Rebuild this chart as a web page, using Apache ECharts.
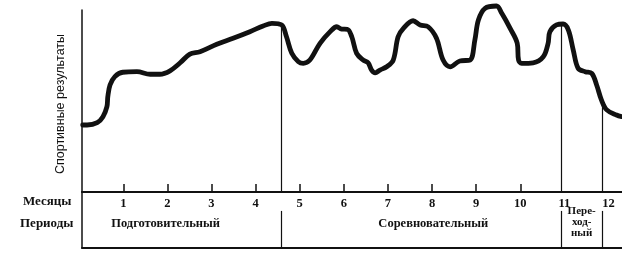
<!DOCTYPE html>
<html>
<head>
<meta charset="utf-8">
<script src="https://cdn.jsdelivr.net/npm/echarts@6/dist/echarts.min.js"></script>
<style>
html,body{margin:0;padding:0;background:#fff;}
#c{width:622px;height:263px;}
</style>
</head>
<body>
<div id="c"></div>
<script>
// ---- data ----
const months = [1, 2, 3, 4, 5, 6, 7, 8, 9, 10, 11, 12];
const monthLabels = ['1', '2', '3', '4', '5', '6', '7', '8', '9', '10', '11', '12'];
// sports results curve: x in months, y in relative units (0..100)
const curveX = [0.08, 0.18, 0.41, 0.54, 0.63, 0.65, 0.70, 0.81, 0.99, 1.31, 1.61, 1.83, 2.06, 2.29, 2.51, 2.74, 3.12, 3.49, 3.87, 4.17, 4.37, 4.59, 4.70, 4.82, 4.97, 5.08, 5.23, 5.46, 5.69, 5.84, 5.95, 6.08, 6.18, 6.29, 6.44, 6.55, 6.63, 6.71, 6.82, 6.97, 7.12, 7.23, 7.35, 7.57, 7.73, 7.91, 8.10, 8.25, 8.41, 8.63, 8.86, 8.97, 9.05, 9.20, 9.46, 9.58, 9.77, 9.93, 9.96, 10.03, 10.29, 10.52, 10.63, 10.67, 10.82, 10.97, 11.09, 11.20, 11.31, 11.47, 11.62, 11.73, 11.84, 11.96, 12.18, 12.30];
const curveY = [36.8, 36.8, 38.1, 41.4, 46.9, 52.4, 58.8, 63.4, 65.8, 66.1, 64.7, 64.7, 66.6, 71.0, 75.8, 77.1, 81.2, 84.5, 88.1, 91.2, 92.7, 91.8, 85.3, 76.2, 71.6, 70.7, 72.5, 81.7, 88.1, 90.8, 89.5, 89.4, 85.3, 76.2, 72.5, 71.0, 67.0, 65.5, 67.0, 68.8, 72.5, 85.3, 89.9, 94.1, 91.8, 90.8, 84.5, 72.5, 68.8, 72.0, 72.5, 83.5, 94.5, 100.9, 102.2, 98.2, 89.9, 81.7, 72.5, 70.7, 71.0, 74.3, 81.7, 88.1, 91.8, 92.3, 89.0, 78.0, 68.0, 66.1, 65.2, 58.8, 50.5, 45.1, 42.3, 41.4];
const periodNames = ['Подготовительный', 'Соревновательный', 'Пере-\nход-\nный'];
const periodBounds = [4.58, 10.93, 11.85];   // month positions of period boundaries
const rowTitles = ['Месяцы', 'Периоды'];
const yTitle = 'Спортивные результаты';

// ---- layout / style ----
const X_MIN = 0.065, X_MAX = 12.305;
const TABLE_MIN = -30.77;         // table band below the month axis (same units as chart)
const TABLE_ROW_TOP = -10.4;      // where period row separators start
const PERIOD_LABEL_Y = -17.6;
const periodLabelOffsets = [[-16, 0], [12, 0], [0, -2]];
const ink = '#111';
const serif = '"Liberation Serif", "DejaVu Serif", serif';
const sans = '"Liberation Sans", Arial, sans-serif';

function curveAt(x) {
  for (let i = 0; i < curveX.length - 1; i++) {
    if (curveX[i] <= x && x <= curveX[i + 1]) {
      const t = (x - curveX[i]) / ((curveX[i + 1] - curveX[i]) || 1);
      return curveY[i] + t * (curveY[i + 1] - curveY[i]);
    }
  }
  return curveY[curveY.length - 1];
}

const curveData = curveX.map((x, i) => [x, curveY[i]]);
// month ticks are replaced by the period boundary lines where they nearly coincide
const tickMonths = months.filter(m => periodBounds.every(b => Math.abs(b - m) > 0.2));

const upperLines = periodBounds.map(b => [{ coord: [b, curveAt(b)] }, { coord: [b, 0] }]);
const lowerLines = periodBounds.map(b => [{ coord: [b, TABLE_ROW_TOP] }, { coord: [b, TABLE_MIN] }]);

const starts = [X_MIN].concat(periodBounds.slice(0, 2));
const ends = periodBounds.slice(0, 3);
const periodLabelData = periodNames.map((n, i) => ({
  name: n,
  value: [(starts[i] + ends[i]) / 2, PERIOD_LABEL_Y],
  label: { offset: periodLabelOffsets[i], fontSize: i === 2 ? 11 : 12.5, lineHeight: 11 }
}));

const chart = echarts.init(document.getElementById('c'), null, { renderer: 'canvas' });
chart.setOption({
  animation: false,
  backgroundColor: '#fff',
  grid: [
    { left: 82, right: 0, top: 10, height: 182, containLabel: false, outerBoundsMode: 'none' },
    { left: 82, right: 0, top: 192, height: 56, containLabel: false, outerBoundsMode: 'none' }
  ],
  xAxis: [
    {
      gridIndex: 0, type: 'value', min: X_MIN, max: X_MAX, position: 'bottom',
      axisLine: { show: true, onZero: false, lineStyle: { color: ink, width: 2 } },
      axisTick: { show: true, inside: true, length: 8, customValues: tickMonths, lineStyle: { color: ink, width: 1.5 } },
      axisLabel: {
        show: true, customValues: months, margin: 5,
        formatter: v => monthLabels[months.indexOf(Math.round(v))] || '',
        color: ink, fontFamily: serif, fontWeight: 'bold', fontSize: 12.5
      },
      splitLine: { show: false }
    },
    {
      gridIndex: 1, type: 'value', min: X_MIN, max: X_MAX, position: 'bottom',
      axisLine: { show: true, onZero: false, lineStyle: { color: ink, width: 2 } },
      axisTick: { show: false }, axisLabel: { show: false }, splitLine: { show: false }
    }
  ],
  yAxis: [
    {
      gridIndex: 0, type: 'value', min: 0, max: 100,
      axisLine: { show: true, onZero: false, lineStyle: { color: ink, width: 1.5 } },
      axisTick: { show: false }, axisLabel: { show: false }, splitLine: { show: false }
    },
    {
      gridIndex: 1, type: 'value', min: TABLE_MIN, max: 0,
      axisLine: { show: true, onZero: false, lineStyle: { color: ink, width: 1.5 } },
      axisTick: { show: false }, axisLabel: { show: false }, splitLine: { show: false }
    }
  ],
  graphic: [
    { type: 'text', left: 23, top: 195, style: { text: rowTitles[0], font: 'bold 13px ' + serif, fill: ink } },
    { type: 'text', left: 20, top: 217, style: { text: rowTitles[1], font: 'bold 13px ' + serif, fill: ink } },
    { type: 'text', x: 61, y: 104, rotation: Math.PI / 2,
      style: { text: yTitle, font: '12.5px ' + sans, fill: ink, align: 'center', verticalAlign: 'middle' } }
  ],
  series: [
    {
      type: 'line', xAxisIndex: 0, yAxisIndex: 0, data: curveData, smooth: 0.35, symbol: 'none', clip: false,
      lineStyle: { color: ink, width: 4.8, cap: 'round', join: 'round' },
      markLine: {
        silent: true, symbol: ['none', 'none'], label: { show: false },
        lineStyle: { color: ink, width: 1.2, type: 'solid' },
        data: upperLines
      },
      z: 3
    },
    {
      type: 'scatter', xAxisIndex: 1, yAxisIndex: 1, data: periodLabelData, symbolSize: 0,
      itemStyle: { opacity: 1 },
      label: {
        show: true, position: 'inside', formatter: p => p.name,
        color: ink, fontFamily: serif, fontWeight: 'bold'
      },
      markLine: {
        silent: true, symbol: ['none', 'none'], label: { show: false },
        lineStyle: { color: ink, width: 1.2, type: 'solid' },
        data: lowerLines
      },
      z: 4
    }
  ]
});
</script>
</body>
</html>
